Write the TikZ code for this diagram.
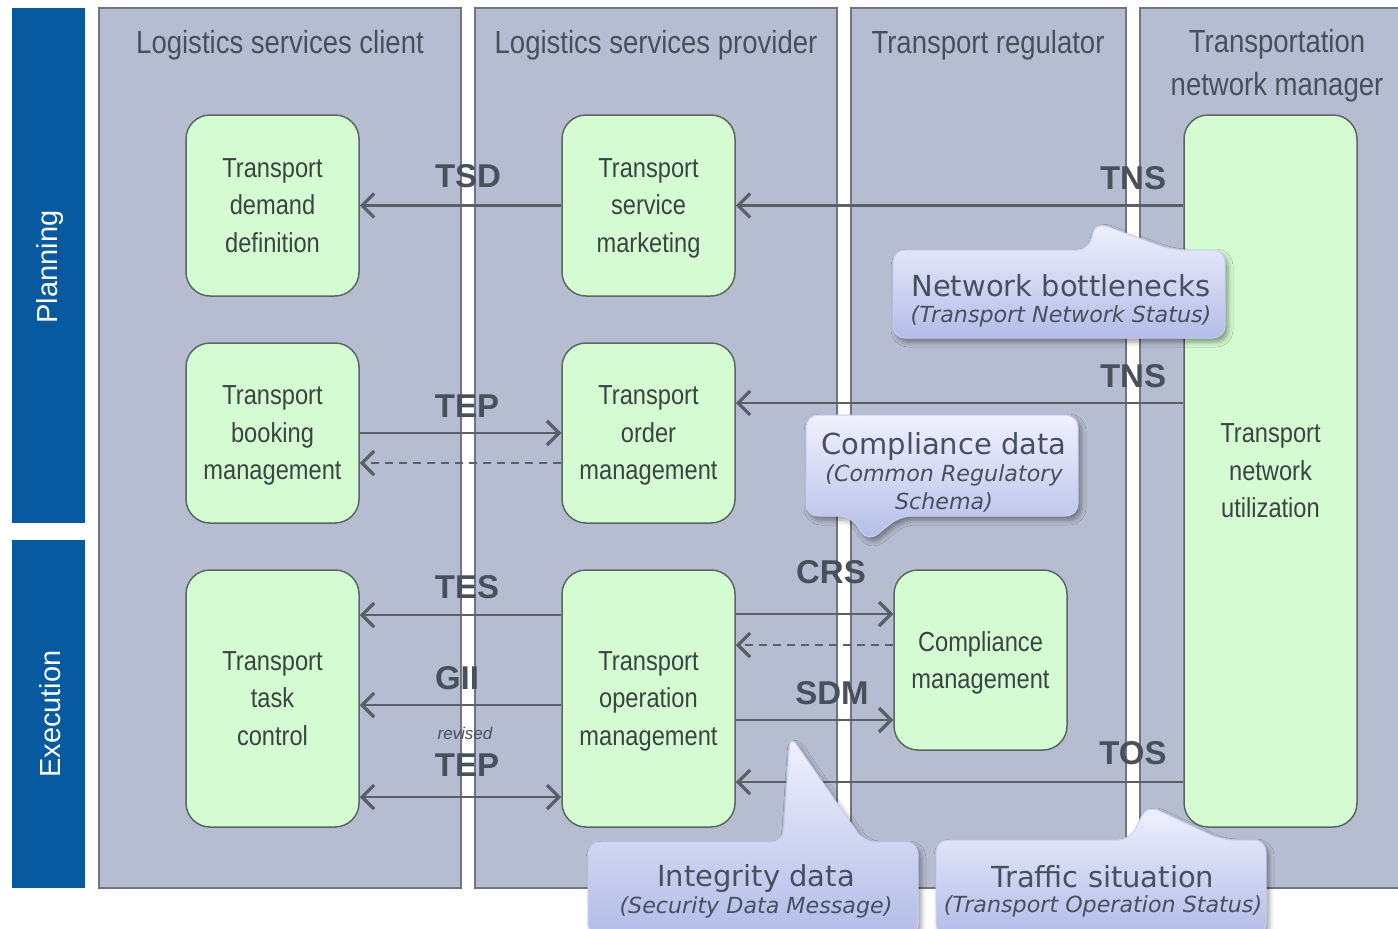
\documentclass[tikz,border=0pt]{standalone}
\usepackage{fontspec}
\setmainfont{Liberation Sans}
\newfontfamily\narrowsans[FakeStretch=0.86]{Liberation Sans}
\newfontfamily\calloutsans{DejaVu Sans}
\usetikzlibrary{arrows.meta,shadows.blur}

\definecolor{lanefill}{RGB}{182,189,208}
\definecolor{laneedge}{RGB}{112,118,128}
\definecolor{phaseblue}{RGB}{8,90,160}
\definecolor{taskfill}{RGB}{213,251,211}
\definecolor{taskedge}{RGB}{88,104,96}
\definecolor{tasktext}{RGB}{58,68,64}
\definecolor{headtext}{RGB}{72,80,92}
\definecolor{flowgray}{RGB}{90,96,104}
\definecolor{calltop}{RGB}{240,242,253}
\definecolor{callbottom}{RGB}{180,188,232}
\definecolor{calledge}{RGB}{200,206,238}
\definecolor{calltext}{RGB}{70,80,94}

\tikzset{
  lane/.style={draw=laneedge, fill=lanefill, line width=1.5pt, inner sep=0pt},
  phase/.style={fill=phaseblue, inner sep=0pt},
  phasetext/.style={rotate=90, text=white, font=\fontsize{29}{29}\selectfont},
  head/.style={text=headtext, align=center, font=\narrowsans\fontsize{32}{43}\selectfont},
  task/.style={draw=taskedge, fill=taskfill, line width=1.5pt, rounded corners=24pt,
    inner sep=0pt, align=center, text=tasktext,
    font=\narrowsans\fontsize{27.5}{37.5}\selectfont,
    text depth=-12pt,
    minimum width=173pt},
  flowline/.style={draw=flowgray, line width=2.2pt},
  flow/.style={flowline, -{Straight Barb[length=12pt,width=24pt,line width=3.2pt]}},
  flowboth/.style={flowline, {Straight Barb[length=12pt,width=24pt,line width=3.2pt]}-{Straight Barb[length=12pt,width=24pt,line width=3.2pt]}},
  reply/.style={flow, dash pattern=on 8pt off 6pt},
  msg/.style={text=headtext, font=\bfseries\fontsize{33}{33}\selectfont},
  callout/.style={top color=calltop, bottom color=callbottom, draw=calledge,
    line width=1pt, rounded corners=12pt,
    blur shadow={shadow xshift=3pt, shadow yshift=-4pt, shadow blur radius=5pt, shadow opacity=40}},
  calltitle/.style={text=calltext, font=\calloutsans\fontsize{29}{29}\selectfont},
  callsub/.style={text=calltext, align=center, font=\calloutsans\itshape\fontsize{22.2}{28}\selectfont}
}

\begin{document}
\begin{tikzpicture}[x=1pt,y=-1pt]
\useasboundingbox (0,0) rectangle (1398,929);

% swimlanes
\node[lane, minimum width=362pt, minimum height=880pt] (client)    at (280,448)   {};
\node[lane, minimum width=362pt, minimum height=880pt] (provider)  at (656,448)   {};
\node[lane, minimum width=275pt, minimum height=880pt] (regulator) at (988.5,448) {};
\node[lane, minimum width=272pt, minimum height=880pt] (manager)   at (1276,448)  {};

\node[head] (hclient)    at (280,45)   {Logistics services client};
\node[head] (hprovider)  at (656,45)   {Logistics services provider};
\node[head] (hregulator) at (988,45)   {Transport regulator};
\node[head] (hmanager)   at (1277,66)  {Transportation\\network manager};

% phases
\node[phase, minimum width=73pt, minimum height=515pt] (planning)  at (48.5,265.5) {};
\node[phase, minimum width=73pt, minimum height=348pt] (execution) at (48.5,714)   {};
\node[phasetext] (tplanning)  at (50,267) {Planning};
\node[phasetext] (texecution) at (50,714) {Execution};

% tasks
\node[task, minimum height=181pt] (tdd)  at (272.5,205.5) {Transport\\demand\\definition};
\node[task, minimum height=181pt] (tsm)  at (648.5,205.5) {Transport\\service\\marketing};
\node[task, minimum height=180pt] (tbm)  at (272.5,433)   {Transport\\booking\\management};
\node[task, minimum height=180pt] (tom)  at (648.5,433)   {Transport\\order\\management};
\node[task, minimum height=257pt] (ttc)  at (272.5,698.5) {Transport\\task\\control};
\node[task, minimum height=257pt] (topm) at (648.5,698.5) {Transport\\operation\\management};
\node[task, minimum height=180pt] (cm)   at (980.5,660)   {Compliance\\management};
\node[task, minimum height=712pt] (tnu)  at (1270.5,471)  {Transport\\network\\utilization};

% message rows
\coordinate (rowTNSb) at (0,403);
\coordinate (rowTEPr) at (0,463);
\coordinate (rowTES)  at (0,615);
\coordinate (rowCRS)  at (0,614);
\coordinate (rowCRSr) at (0,645);
\coordinate (rowGII)  at (0,705);
\coordinate (rowSDM)  at (0,720);
\coordinate (rowTOS)  at (0,782);
\coordinate (rowTEPx) at (0,797);

% message flows
\draw[flow] (tsm.west) -- (tdd.east);
\draw[flow] (tnu.west |- tsm.east) -- (tsm.east);
\draw[flow] (tbm.east) -- (tom.west);
\draw[reply] (tom.west |- rowTEPr) -- (tbm.east |- rowTEPr);
\draw[flow] (tnu.west |- rowTNSb) -- (tom.east |- rowTNSb);
\draw[flow] (topm.west |- rowTES) -- (ttc.east |- rowTES);
\draw[flow] (topm.west |- rowGII) -- (ttc.east |- rowGII);
\draw[flowboth] (ttc.east |- rowTEPx) -- (topm.west |- rowTEPx);
\draw[flow] (topm.east |- rowCRS) -- (cm.west |- rowCRS);
\draw[reply] (cm.west |- rowCRSr) -- (topm.east |- rowCRSr);
\draw[flow] (topm.east |- rowSDM) -- (cm.west |- rowSDM);
\draw[flow] (tnu.west |- rowTOS) -- (topm.east |- rowTOS);

% message names
\node[msg] (lTSD)  at (468,176)  {TSD};
\node[msg] (lTNSa) at (1133,178) {TNS};
\node[msg] (lTEP)  at (467,406)  {TEP};
\node[msg] (lTNSb) at (1133,376) {TNS};
\node[msg] (lTES)  at (467,587)  {TES};
\node[msg] (lGII)  at (457,678)  {GII};
\node[text=headtext, font=\itshape\fontsize{17}{17}\selectfont] (lrev) at (465,733) {revised};
\node[msg] (lTEPx) at (467,765)  {TEP};
\node[msg] (lCRS)  at (831,572)  {CRS};
\node[msg] (lSDM)  at (832,693)  {SDM};
\node[msg] (lTOS)  at (1133,753) {TOS};

% callouts
\path[callout] (893,250) -- (1089,250) -- (1095,222) -- (1172,250) -- (1225,250)
  -- (1225,338) -- (893,338) -- cycle;
\node[calltitle] (cbott) at (1061,286) {Network bottlenecks};
\node[callsub]   (cbotts) at (1061,316) {(Transport Network Status)};

\path[callout] (806,415) -- (1078,415) -- (1078,516) -- (900,516) -- (868,542)
  -- (851,516) -- (806,516) -- cycle;
\node[calltitle] (ccomp) at (944,446) {Compliance data};
\node[callsub]   (ccomps) at (944,489) {(Common Regulatory\\Schema)};

\path[callout] (588,842) -- (783,842) -- (790,735) -- (864,842) -- (918,842)
  -- (918,935) -- (588,935) -- cycle;
\node[calltitle] (cint) at (756,878) {Integrity data};
\node[callsub]   (cints) at (756,907) {(Security Data Message)};

\path[callout] (936,840) -- (1130,840) -- (1147,805) -- (1222,840) -- (1266,840)
  -- (1266,935) -- (936,935) -- cycle;
\node[calltitle] (ctraf) at (1103,877) {Traffic situation};
\node[callsub]   (ctrafs) at (1103,906) {(Transport Operation Status)};
\end{tikzpicture}
\end{document}
